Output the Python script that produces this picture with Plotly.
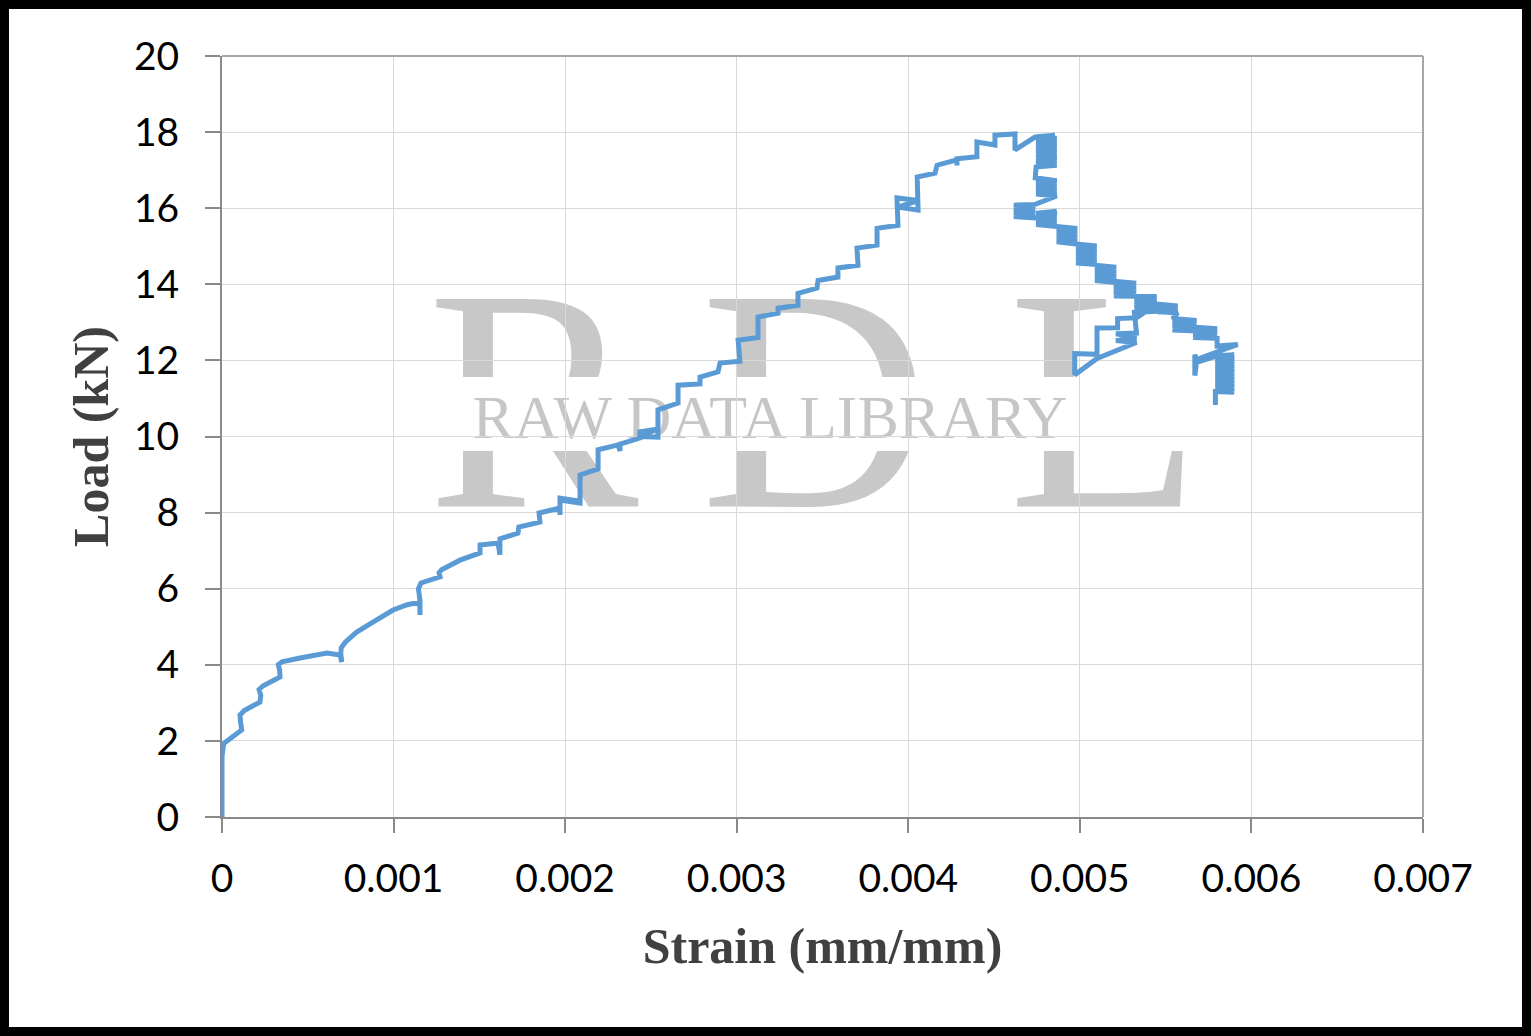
import plotly.graph_objects as go

# ---------------- data ----------------
# rising branch up to the peak
rise_strain = [
    0.0, 0.0, 0.00001, 0.00006, 0.000115, 0.000108, 0.000105, 0.00013,
    0.000221, 0.000226, 0.000216, 0.00024, 0.000338, 0.000336, 0.000328, 0.00035,
    0.000455, 0.000612, 0.000688, 0.000698, 0.000692, 0.000695, 0.00072,
    0.000785, 0.00088, 0.000997, 0.00108, 0.001154, 0.001154, 0.001152, 0.001145, 0.00116,
    0.001271, 0.001265, 0.00128, 0.001387,
    0.001504, 0.001504, 0.001609, 0.00162, 0.00162, 0.001725, 0.00173,
    0.001853, 0.001848, 0.00197, 0.00197, 0.00197, 0.002087, 0.00197, 0.002087,
    0.002087, 0.002192, 0.002192, 0.002308, 0.00232, 0.00232,
    0.002436, 0.002436, 0.002541, 0.002436, 0.002541, 0.002541,
    0.002658, 0.002658, 0.002786, 0.002786, 0.002891, 0.002903, 0.003019,
    0.003008, 0.003124, 0.003124, 0.003241, 0.003241, 0.003357, 0.003357,
    0.003468, 0.003474, 0.00359, 0.00359, 0.003707, 0.003701, 0.003818, 0.003818,
    0.00394, 0.003934, 0.004057, 0.00394, 0.004057, 0.004052,
    0.004156, 0.004168, 0.004284, 0.004284, 0.004284, 0.0044, 0.0044,
    0.004505, 0.004505, 0.004622, 0.004622, 0.004739, 0.004855,
]
rise_load = [
    0.0, 1.6, 1.93, 2.1, 2.29, 2.5, 2.68, 2.8,
    3.02, 3.2, 3.35, 3.45, 3.68, 3.86, 4.0, 4.08,
    4.18, 4.31, 4.26, 4.07, 4.3, 4.45, 4.6,
    4.86, 5.12, 5.44, 5.58, 5.65, 5.31, 5.75, 6.0, 6.15,
    6.31, 6.42, 6.5, 6.75,
    6.94, 7.15, 7.2, 6.89, 7.31, 7.46, 7.62,
    7.75, 7.99, 8.12, 7.94, 8.38, 8.3, 8.33, 8.25,
    8.99, 9.15, 9.65, 9.78, 9.62, 9.8,
    9.96, 10.12, 10.2, 10.0, 9.98, 10.7,
    10.88, 11.35, 11.38, 11.56, 11.7, 11.93, 11.98,
    12.53, 12.6, 13.14, 13.24, 13.37, 13.45, 13.76,
    13.9, 14.1, 14.19, 14.43, 14.5, 14.95, 15.03, 15.47,
    15.55, 16.27, 16.2, 16.03, 15.95, 16.82,
    16.92, 17.13, 17.27, 17.12, 17.3, 17.35, 17.74,
    17.66, 17.92, 17.95, 17.53, 17.87, 17.92,
]

# post-peak branch: dense load oscillations (blobs) stepping down
post_strain = [
    # blob A
    0.004745, 0.004865, 0.004745, 0.004865, 0.004745, 0.004865, 0.004745, 0.004865, 0.004745,
    0.004865, 0.004745, 0.004865, 0.004745, 0.004865, 0.004745, 0.004865, 0.004745,
    0.00474,
    # blob B
    0.004865, 0.004745, 0.004865, 0.004745, 0.004865, 0.004745, 0.004865, 0.004745, 0.004865,
    0.00474,
    # blob C
    0.004615, 0.00474, 0.004615, 0.00474, 0.004615, 0.00474, 0.004615, 0.00474,
    # blob D
    0.004865, 0.004745, 0.004865, 0.004745, 0.004865, 0.004745, 0.004865, 0.004745, 0.004865,
    # blob E
    0.004865, 0.004985, 0.004865, 0.004985, 0.004865, 0.004985, 0.004865, 0.004985, 0.004865,
    # blob F
    0.004978, 0.005098, 0.004978, 0.005098, 0.004978, 0.005098, 0.004978, 0.005098,
    0.004978, 0.005098, 0.004978, 0.005098,
    # blob G
    0.005088, 0.005212, 0.005088, 0.005212, 0.005088, 0.005212, 0.005088, 0.005212,
    0.005088, 0.005212,
    # blob H
    0.005198, 0.005328, 0.005198, 0.005328, 0.005198, 0.005328, 0.005198, 0.005328, 0.005198,
    # blob I
    0.005448, 0.005318, 0.005448, 0.005318, 0.005448, 0.005318, 0.005448, 0.005318,
    0.005448, 0.005318,
    # loop back to lower strain and up again
    0.00533, 0.00521, 0.00533, 0.00521, 0.00533, 0.0051, 0.00497, 0.00497,
    0.0051, 0.0051, 0.00522, 0.00522, 0.00533,
    # blob J
    0.00545, 0.00557, 0.00545, 0.00557, 0.00545, 0.00557,
    # blob K
    0.00554, 0.00568, 0.00554, 0.00568, 0.00554, 0.00568, 0.00554, 0.00568,
    # blob L
    0.00566, 0.0058, 0.00566, 0.0058, 0.00566, 0.0058, 0.00566,
    # tail
    0.0058, 0.0058, 0.00592, 0.00568, 0.00567, 0.00567, 0.00568, 0.0058,
    0.0059, 0.00579, 0.0059, 0.00579, 0.0059, 0.00579, 0.0059, 0.00579, 0.0059, 0.00579,
    0.0059, 0.00579, 0.0059, 0.00579, 0.0059, 0.00579, 0.0059, 0.00579, 0.0059, 0.00579,
    0.0059, 0.00579, 0.00579,
]
post_load = [
    # blob A
    17.88, 17.84, 17.78, 17.74, 17.69, 17.63, 17.58, 17.54, 17.48,
    17.43, 17.39, 17.33, 17.28, 17.24, 17.18, 17.13, 17.08,
    16.8,
    # blob B
    16.72, 16.67, 16.62, 16.57, 16.52, 16.47, 16.42, 16.37, 16.32,
    16.1,
    # blob C
    16.08, 16.03, 15.98, 15.93, 15.88, 15.83, 15.78, 15.74,
    # blob D
    15.92, 15.87, 15.82, 15.77, 15.72, 15.67, 15.62, 15.57, 15.52,
    # blob E
    15.52, 15.47, 15.42, 15.37, 15.32, 15.27, 15.22, 15.17, 15.12,
    # blob F
    15.06, 15.01, 14.96, 14.91, 14.86, 14.81, 14.76, 14.71, 14.66, 14.61,
    14.56, 14.52,
    # blob G
    14.5, 14.45, 14.4, 14.35, 14.3, 14.25, 14.2, 14.15, 14.1, 14.05,
    # blob H
    14.08, 14.03, 13.98, 13.93, 13.88, 13.83, 13.78, 13.73, 13.69,
    # blob I
    13.68, 13.63, 13.58, 13.53, 13.48, 13.43, 13.38, 13.33, 13.29, 13.26,
    # loop back
    12.72, 12.7, 12.6, 12.52, 12.47, 12.05, 11.62, 12.18,
    12.16, 12.85, 12.86, 13.1, 13.12,
    # blob J
    13.48, 13.43, 13.38, 13.33, 13.28, 13.25,
    # blob K
    13.1, 13.05, 13.0, 12.95, 12.9, 12.85, 12.8, 12.77,
    # blob L
    12.88, 12.83, 12.78, 12.73, 12.68, 12.63, 12.6,
    # tail
    12.58, 12.38, 12.42, 12.02, 12.15, 11.6, 11.95, 12.12,
    12.15, 12.1, 12.05, 12.0, 11.95, 11.9, 11.85, 11.8, 11.75, 11.7,
    11.65, 11.6, 11.55, 11.5, 11.45, 11.4, 11.35, 11.3, 11.25, 11.2,
    11.16, 11.18, 10.83,
]

strain = rise_strain + post_strain
load_kn = rise_load + post_load

x_ticks = [0, 0.001, 0.002, 0.003, 0.004, 0.005, 0.006, 0.007]
x_tick_labels = ["0", "0.001", "0.002", "0.003", "0.004", "0.005", "0.006", "0.007"]
y_ticks = [0, 2, 4, 6, 8, 10, 12, 14, 16, 18, 20]
y_tick_labels = [str(v) for v in y_ticks]

x_title = "Strain (mm/mm)"
y_title = "Load (kN)"
watermark_letters = ["R", "D", "L"]
watermark_text = "RAW DATA LIBRARY"

# ---------------- figure ----------------
W, H = 1531, 1036
ML, MR, MT, MB = 222, 108, 56, 219
PW, PH = W - ML - MR, H - MT - MB


def px_to_paper(px, py):
    return (px - ML) / PW, (H - MB - py) / PH


fig = go.Figure()
fig.add_trace(go.Scatter(
    x=strain, y=load_kn, mode="lines",
    line=dict(color="#5B9BD5", width=5, simplify=False),
    cliponaxis=False, showlegend=False, hoverinfo="x+y",
))

shapes = []
# watermark big letters (under the grid)
wm_centers_px = [(533, 365), (815, 365), (1105, 365)]
for letter, (cx, cy) in zip(watermark_letters, wm_centers_px):
    px, py = px_to_paper(cx, cy)
    shapes.append(dict(
        type="rect", xref="paper", yref="paper", layer="below",
        x0=px - 0.01, x1=px + 0.01, y0=py - 0.01, y1=py + 0.01,
        line=dict(width=0), fillcolor="rgba(0,0,0,0)",
        label=dict(text=letter, textposition="middle center",
                   font=dict(family="Liberation Serif", size=317, color="#c8c8c8")),
    ))
# white band behind the small watermark text
bx0, by0 = px_to_paper(426, 451)
bx1, by1 = px_to_paper(1200, 377)
shapes.append(dict(type="rect", xref="paper", yref="paper", layer="below",
                   x0=bx0, x1=bx1, y0=by0, y1=by1,
                   line=dict(width=0), fillcolor="white"))
sx, sy = px_to_paper(770, 410)
shapes.append(dict(
    type="rect", xref="paper", yref="paper", layer="below",
    x0=sx - 0.01, x1=sx + 0.01, y0=sy - 0.01, y1=sy + 0.01,
    line=dict(width=0), fillcolor="rgba(0,0,0,0)",
    label=dict(text=watermark_text, textposition="middle center",
               font=dict(family="Liberation Serif", size=62, color="#c6c6c6")),
))
# lighter top / right plot border
shapes.append(dict(type="line", xref="paper", yref="paper", layer="above",
                   x0=0, x1=1, y0=1, y1=1, line=dict(color="#a6a6a6", width=2)))
shapes.append(dict(type="line", xref="paper", yref="paper", layer="above",
                   x0=1, x1=1, y0=0, y1=1, line=dict(color="#a6a6a6", width=2)))
# outer black frame
fx0, fy0 = px_to_paper(4.5, 1031.5)
fx1, fy1 = px_to_paper(1526.5, 4.5)
shapes.append(dict(type="rect", xref="paper", yref="paper", layer="above",
                   x0=fx0, x1=fx1, y0=fy0, y1=fy1,
                   line=dict(color="black", width=9), fillcolor="rgba(0,0,0,0)"))

tick_font = dict(family="Lato", size=39, color="black")
title_font = dict(family="Liberation Serif", size=50, color="#404040", weight="bold")

fig.update_layout(
    width=W, height=H,
    margin=dict(l=ML, r=MR, t=MT, b=MB, autoexpand=False),
    paper_bgcolor="white", plot_bgcolor="rgba(0,0,0,0)",
    showlegend=False,
    shapes=shapes,
    xaxis=dict(
        range=[0, 0.007], tickmode="array", tickvals=x_ticks, ticktext=x_tick_labels,
        showgrid=True, gridcolor="#d9d9d9", gridwidth=1.3, zeroline=False,
        showline=True, linecolor="#898989", linewidth=2,
        ticks="outside", ticklen=14, tickwidth=2, tickcolor="#898989",
        tickfont=tick_font, ticklabelstandoff=12, layer="below traces",
        title=dict(text=x_title, font=title_font, standoff=29),
        automargin=False, fixedrange=True,
    ),
    yaxis=dict(
        range=[0, 20], tickmode="array", tickvals=y_ticks, ticktext=y_tick_labels,
        showgrid=True, gridcolor="#d9d9d9", gridwidth=1.3, zeroline=False,
        showline=True, linecolor="#898989", linewidth=2,
        ticks="outside", ticklen=15, tickwidth=2, tickcolor="#898989",
        tickfont=tick_font, ticklabelstandoff=18, layer="below traces",
        title=dict(text=y_title, font=title_font, standoff=9),
        automargin=False, fixedrange=True,
    ),
)

fig.write_html("out.html")
